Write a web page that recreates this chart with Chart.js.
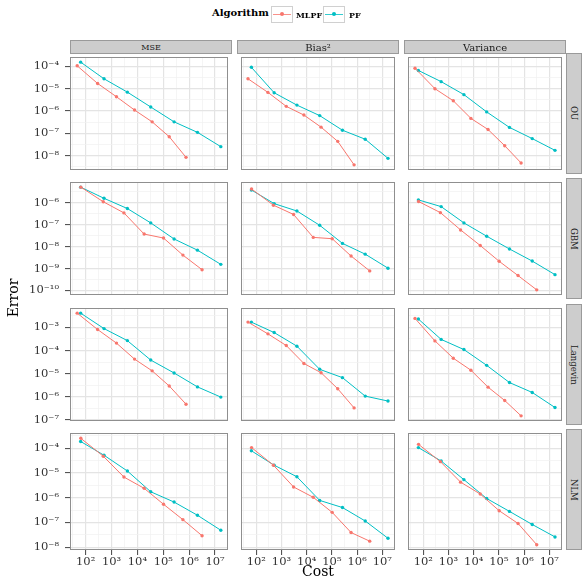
<!DOCTYPE html>
<html>
<head>
<meta charset="utf-8">
<script src="https://cdn.jsdelivr.net/npm/chart.js@4"></script>
<style>
  body { margin: 0; background: #fff; font-family: "DejaVu Serif", serif; }
  #wrap { position: relative; width: 582px; height: 580px; overflow: hidden; }
  canvas { position: absolute; }
  .strip { position: absolute; box-sizing: border-box; background: #cdcdcd; border: 1px solid #9a9a9a;
           color: #1a1a1a; display: flex; align-items: center; justify-content: center; }
  .side { writing-mode: vertical-rl; font-size: 8.5px; }
  .txt { position: absolute; color: #000; white-space: nowrap; }
  .key { position: absolute; box-sizing: border-box; width: 22px; height: 17px; border: 1px solid #d0d0d0; background: #fff; }
  .key i { position: absolute; left: 1px; right: 1px; top: 7px; height: 1px; opacity: 0.8; }
  .key b { position: absolute; left: 8px; top: 5px; width: 4px; height: 4px; border-radius: 50%; }
</style>
</head>
<body>
<div id="wrap"></div>
<script>
const models = ['OU', 'GBM', 'Langevin', 'NLM'];
const measures = ['MSE', 'Bias²', 'Variance'];
const algorithms = ['MLPF', 'PF'];
const colors = ['#F8766D', '#00BFC4'];

// cost per run
const costPF = [64, 512, 4096, 32768, 262144, 2097152, 16777216];
const costMLPF_OU = [47, 290, 1550, 7760, 37150, 170000, 758600];
const costMLPF_GBM = [65, 479, 3020, 18200, 102300, 575000, 3160000];
const costMLPF_Langevin = [47, 290, 1550, 7760, 37150, 170000, 758600];
const costMLPF_NLM = [65, 479, 3020, 18200, 102300, 575000, 3160000];

// OU
const ouMseMLPF = [1.06e-4, 1.71e-5, 4.34e-6, 1.10e-6, 3.25e-7, 7.0e-8, 8.3e-9];
const ouMsePF = [1.55e-4, 2.77e-5, 7.0e-6, 1.51e-6, 3.25e-7, 1.10e-7, 2.51e-8];
const ouBiasMLPF = [2.77e-5, 6.81e-6, 1.61e-6, 6.56e-7, 1.88e-7, 4.34e-8, 3.83e-9];
const ouBiasPF = [9.08e-5, 6.56e-6, 1.83e-6, 6.19e-7, 1.37e-7, 5.41e-8, 7.5e-9];
const ouVarMLPF = [8.26e-5, 1.0e-5, 2.87e-6, 4.65e-7, 1.47e-7, 2.77e-8, 4.65e-9];
const ouVarPF = [6.56e-5, 2.07e-5, 5.41e-6, 9.08e-7, 1.83e-7, 5.78e-8, 1.71e-8];

// GBM
const gbmMseMLPF = [5.1e-6, 1.10e-6, 3.42e-7, 3.72e-8, 2.45e-8, 4.09e-9, 8.85e-10];
const gbmMsePF = [5.1e-6, 1.58e-6, 5.41e-7, 1.20e-7, 2.22e-8, 6.87e-9, 1.55e-9];
const gbmBiasMLPF = [4.2e-6, 7.69e-7, 2.9e-7, 2.62e-8, 2.29e-8, 3.72e-9, 7.8e-10];
const gbmBiasPF = [3.8e-6, 9.08e-7, 4.17e-7, 9.33e-8, 1.40e-8, 4.52e-9, 1.04e-9];
const gbmVarMLPF = [1.13e-6, 3.52e-7, 5.73e-8, 1.12e-8, 2.14e-9, 4.79e-10, 1.07e-10];
const gbmVarPF = [1.34e-6, 6.61e-7, 1.20e-7, 2.97e-8, 7.8e-9, 2.19e-9, 5.27e-10];

// Langevin
const lgvMseMLPF = [4.13e-3, 8.09e-4, 2.09e-4, 4.25e-5, 1.32e-5, 2.94e-6, 4.79e-7];
const lgvMsePF = [4.13e-3, 8.87e-4, 2.68e-4, 3.87e-5, 1.07e-5, 2.68e-6, 9.72e-7];
const lgvBiasMLPF = [1.69e-3, 5.25e-4, 1.64e-4, 2.75e-5, 1.10e-5, 2.23e-6, 3.31e-7];
const lgvBiasPF = [1.69e-3, 5.97e-4, 1.54e-4, 1.54e-5, 6.73e-6, 1.07e-6, 6.55e-7];
const lgvVarMLPF = [2.44e-3, 2.61e-4, 4.66e-5, 1.41e-5, 2.61e-6, 6.92e-7, 1.5e-7];
const lgvVarPF = [2.29e-3, 3.02e-4, 1.10e-4, 2.29e-5, 4.13e-6, 1.54e-6, 3.44e-7];

// NLM
const nlmMseMLPF = [2.51e-4, 4.76e-5, 6.84e-6, 2.40e-6, 5.45e-7, 1.30e-7, 2.92e-8];
const nlmMsePF = [1.87e-4, 5.2e-5, 1.20e-5, 1.74e-6, 6.68e-7, 1.96e-7, 4.86e-8];
const nlmBiasMLPF = [1.06e-4, 2.06e-5, 2.72e-6, 1.04e-6, 2.57e-7, 3.93e-8, 1.76e-8];
const nlmBiasPF = [7.87e-5, 2.06e-5, 7.03e-6, 7.78e-7, 4.02e-7, 1.15e-7, 2.30e-8];
const nlmVarMLPF = [1.43e-4, 2.86e-5, 4.26e-6, 1.41e-6, 2.99e-7, 9.12e-8, 1.27e-8];
const nlmVarPF = [1.06e-4, 3.04e-5, 5.37e-6, 9.31e-7, 2.81e-7, 8.32e-8, 2.61e-8];

const costs = [costMLPF_OU, costMLPF_GBM, costMLPF_Langevin, costMLPF_NLM];
const errors = [
  [[ouMseMLPF, ouMsePF], [ouBiasMLPF, ouBiasPF], [ouVarMLPF, ouVarPF]],
  [[gbmMseMLPF, gbmMsePF], [gbmBiasMLPF, gbmBiasPF], [gbmVarMLPF, gbmVarPF]],
  [[lgvMseMLPF, lgvMsePF], [lgvBiasMLPF, lgvBiasPF], [lgvVarMLPF, lgvVarPF]],
  [[nlmMseMLPF, nlmMsePF], [nlmBiasMLPF, nlmBiasPF], [nlmVarMLPF, nlmVarPF]]
];

// layout
const panelX = [70, 237, 404];
const panelY = [53, 178, 304, 429];
const PW = 162, PH = 121;
const wrap = document.getElementById('wrap');

// log range with 5% expansion, like ggplot
function logRange(arrs) {
  let lo = Infinity, hi = -Infinity;
  arrs.forEach(a => a.forEach(v => { const l = Math.log10(v); lo = Math.min(lo, l); hi = Math.max(hi, l); }));
  const pad = (hi - lo) * 0.05;
  return [Math.pow(10, lo - pad), Math.pow(10, hi + pad)];
}
const xRange = logRange([costPF, ...costs]);
const yRanges = errors.map(row => logRange(row.flat()));

const SUP = { '-': '⁻', '0': '⁰', '1': '¹', '2': '²', '3': '³', '4': '⁴', '5': '⁵', '6': '⁶', '7': '⁷', '8': '⁸', '9': '⁹' };
const isMajor = v => Math.abs(Math.log10(v) - Math.round(Math.log10(v))) < 1e-6;
const fmt = v => isMajor(v) ? '10' + String(Math.round(Math.log10(v))).split('').map(ch => SUP[ch]).join('') : '';

function halfDecades(scale) {
  const a = Math.ceil(Math.log10(scale.min) * 2 - 1e-9) / 2;
  const b = Math.log10(scale.max) + 1e-9;
  const t = [];
  for (let e = a; e <= b; e += 0.5) t.push({ value: Math.pow(10, e) });
  scale.ticks = t;
}

const frame = {
  id: 'frame',
  afterDraw(ch) {
    const a = ch.chartArea, c = ch.ctx;
    c.save();
    c.strokeStyle = '#8f8f8f';
    c.lineWidth = 1;
    c.strokeRect(a.left + 0.5, a.top + 0.5, a.width - 1, a.height - 1);
    c.restore();
  }
};

function gridOpts(showTicks) {
  return {
    color: ctx => ctx.tick && isMajor(ctx.tick.value) ? '#e4e4e4' : '#f1f1f1',
    lineWidth: ctx => ctx.tick && isMajor(ctx.tick.value) ? 1.2 : 0.7,
    drawTicks: showTicks,
    tickLength: 5,
    tickColor: ctx => ctx.tick && isMajor(ctx.tick.value) ? '#444' : 'rgba(0,0,0,0)',
    tickWidth: 1
  };
}

const tickFont = { family: 'DejaVu Serif', size: 11.5 };

for (let r = 0; r < 4; r++) {
  for (let c = 0; c < 3; c++) {
    const left = c === 0 ? 0 : panelX[c];
    const width = c === 0 ? panelX[0] + PW : PW;
    const height = r === 3 ? 580 - panelY[r] : PH;
    const cv = document.createElement('canvas');
    cv.width = width; cv.height = height;
    cv.style.left = left + 'px'; cv.style.top = panelY[r] + 'px';
    cv.style.width = width + 'px'; cv.style.height = height + 'px';
    wrap.appendChild(cv);

    const datasets = algorithms.map((alg, k) => {
      const xs = k === 0 ? costs[r] : costPF;
      const ys = errors[r][c][k];
      return {
        label: alg,
        data: xs.map((x, i) => ({ x: x, y: ys[i] })),
        borderColor: colors[k],
        backgroundColor: colors[k],
        borderWidth: 1,
        pointRadius: 1.7,
        pointBorderWidth: 0,
        tension: 0
      };
    });

    new Chart(cv, {
      type: 'line',
      data: { datasets },
      plugins: [frame],
      options: {
        responsive: false,
        animation: false,
        devicePixelRatio: 1,
        layout: { padding: 0 },
        plugins: { legend: { display: false }, tooltip: { enabled: false } },
        scales: {
          x: {
            type: 'logarithmic',
            min: xRange[0], max: xRange[1],
            afterBuildTicks: halfDecades,
            afterFit: s => { s.height = r === 3 ? 580 - panelY[3] - PH : 0; s.paddingLeft = 0; s.paddingRight = 0; },
            border: { display: false },
            grid: gridOpts(r === 3),
            ticks: { display: r === 3, autoSkip: false, maxRotation: 0, padding: 0, color: '#333', font: tickFont, callback: v => fmt(v) }
          },
          y: {
            type: 'logarithmic',
            min: yRanges[r][0], max: yRanges[r][1],
            afterBuildTicks: halfDecades,
            afterFit: s => { s.width = c === 0 ? panelX[0] : 0; s.paddingTop = 0; s.paddingBottom = 0; },
            border: { display: false },
            grid: gridOpts(c === 0),
            ticks: { display: c === 0, autoSkip: false, padding: 6, color: '#333', font: tickFont, callback: v => fmt(v) }
          }
        }
      }
    });
  }
}

// facet strips
measures.forEach((m, c) => {
  const d = document.createElement('div');
  d.className = 'strip';
  d.style.cssText = `left:${panelX[c]}px;top:40px;width:${PW}px;height:14px;font-size:${c === 0 ? 8 : 10}px;`;
  d.textContent = m;
  wrap.appendChild(d);
});
models.forEach((m, r) => {
  const d = document.createElement('div');
  d.className = 'strip';
  d.style.cssText = `left:566px;top:${panelY[r]}px;width:16px;height:${PH}px;`;
  const s = document.createElement('span');
  s.className = 'side';
  s.textContent = m;
  d.appendChild(s);
  wrap.appendChild(d);
});

// axis titles
function addText(txt, css) {
  const d = document.createElement('div');
  d.className = 'txt';
  d.style.cssText = css;
  d.textContent = txt;
  wrap.appendChild(d);
  return d;
}
addText('Cost', 'left:302px;top:563px;font-size:14px;');
addText('Error', 'left:-17px;top:290px;font-size:14px;transform:rotate(-90deg);width:60px;text-align:center;');

// legend
addText('Algorithm', 'left:212px;top:7px;font-size:10px;font-weight:bold;');
const keyX = [271, 323], labX = [296, 349];
algorithms.forEach((a, k) => {
  const key = document.createElement('div');
  key.className = 'key';
  key.style.left = keyX[k] + 'px';
  key.style.top = '6px';
  key.innerHTML = `<i style="background:${colors[k]}"></i><b style="background:${colors[k]}"></b>`;
  wrap.appendChild(key);
  addText(a, `left:${labX[k]}px;top:10px;font-size:8px;font-weight:bold;`);
});
</script>
</body>
</html>
